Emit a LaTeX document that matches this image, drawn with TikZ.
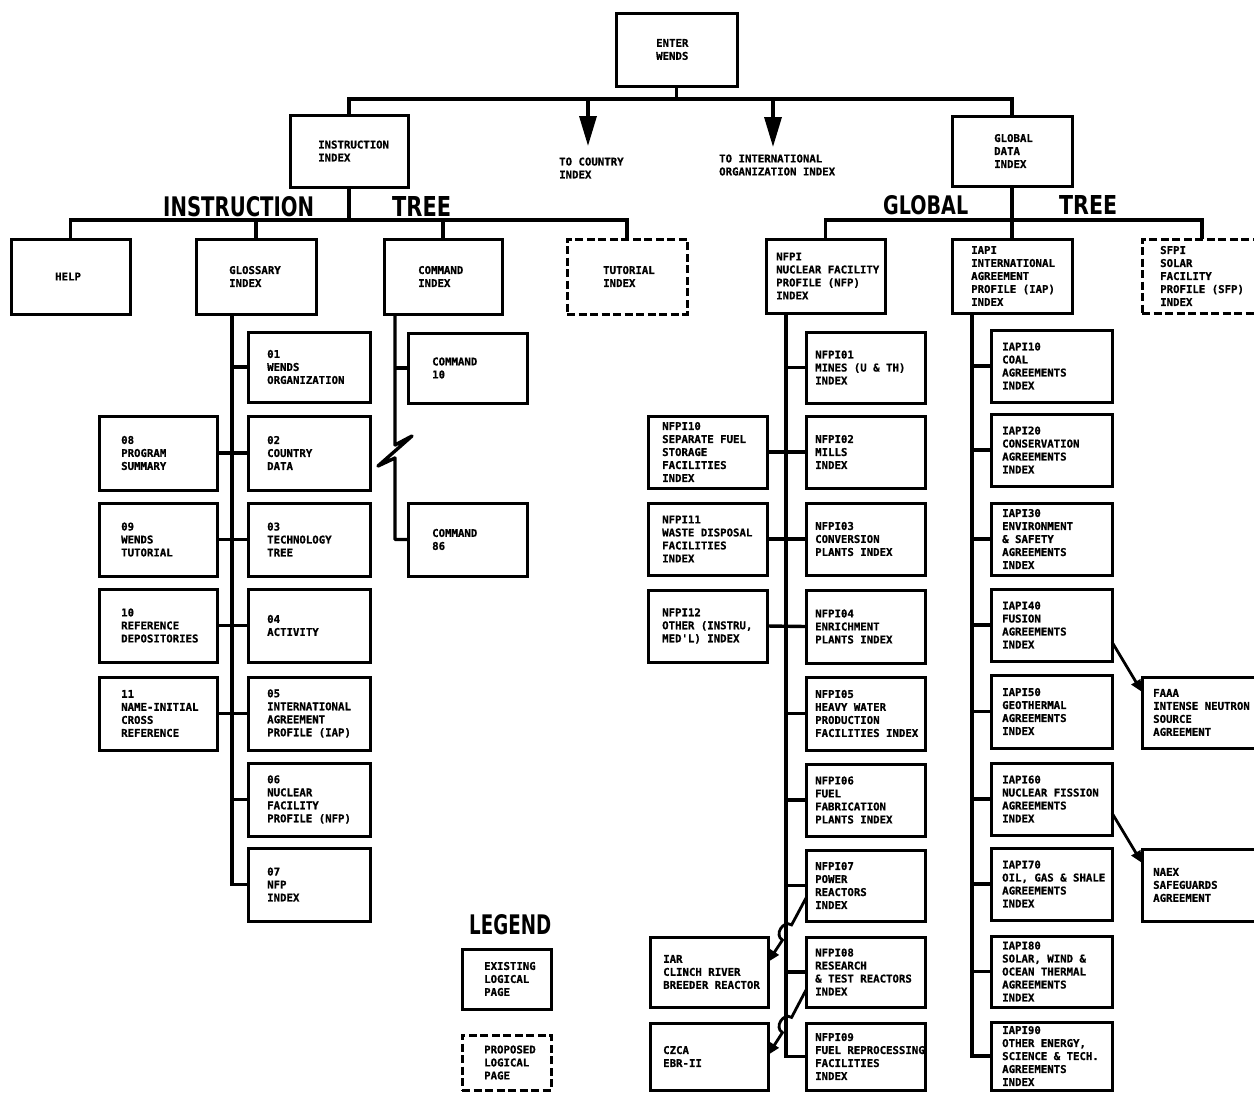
\documentclass[tikz,border=0pt]{standalone}
\usepackage{fontspec}
\usepackage{graphicx}
\newfontfamily\boxfont{DejaVu Sans Mono}[BoldFeatures={FakeBold=0.8}]
\newfontfamily\bigfont{DejaVu Sans}
\usetikzlibrary{arrows.meta,calc}
\tikzset{
  solidbox/.style={draw, line width=3pt, inner sep=0pt, outer sep=0pt},
  dashbox/.style={solidbox, dash pattern=on 8pt off 3.5pt},
  txt/.style={font=\boxfont\bfseries\fontsize{10.7}{13}\selectfont, align=left, inner sep=0pt, anchor=west},
  conn/.style={line width=3.4pt},
  bigarrow/.style={conn, -{Triangle[length=30pt,width=17pt]}},
  smallarrow/.style={line width=2.8pt, -{Triangle[length=12pt,width=10pt]}},
  biglbl/.style={inner sep=0pt, anchor=south west, font=\bigfont\bfseries}
}
\newcommand{\pbox}[8][solidbox]{%
  \node[#1, minimum width={#5-#3}, minimum height={#6-#4}] (#2) at ({(#3+#5)/2},{(#4+#6)/2}) {};
  \node[txt] (#2-t) at ([xshift=#7pt]#2.west) {#8};
}
\begin{document}
\begin{tikzpicture}[x=1pt,y=-1pt]
\path[use as bounding box, fill=white] (0,0) rectangle (1254,1093);

% ---- top level
\pbox{enter}{616}{13}{737}{86}{40}{ENTER\\WENDS}
\pbox{instr}{290}{115}{408}{187}{28}{INSTRUCTION\\INDEX}
\pbox{glob}{952}{116}{1072}{186}{42}{GLOBAL\\DATA\\INDEX}
\node[txt] (toc) at (559,168) {TO COUNTRY\\INDEX};
\node[txt] (toio) at (719,165) {TO INTERNATIONAL\\ORGANIZATION INDEX};

% ---- instruction tree
\pbox{help}{11}{239}{130}{314}{44}{HELP}
\pbox{gloss}{196}{239}{316}{314}{33}{GLOSSARY\\INDEX}
\pbox{cmd}{384}{239}{502}{314}{34}{COMMAND\\INDEX}
\pbox[dashbox]{tut}{567}{239}{687}{314}{36}{TUTORIAL\\INDEX}

\pbox{g01}{248}{332}{370}{402}{19}{01\\WENDS\\ORGANIZATION}
\pbox{g02}{248}{416}{370}{490}{19}{02\\COUNTRY\\DATA}
\pbox{g03}{248}{503}{370}{576}{19}{03\\TECHNOLOGY\\TREE}
\pbox{g04}{248}{589}{370}{662}{19}{04\\ACTIVITY}
\pbox{g05}{248}{677}{370}{750}{19}{05\\INTERNATIONAL\\AGREEMENT\\PROFILE (IAP)}
\pbox{g06}{248}{763}{370}{836}{19}{06\\NUCLEAR\\FACILITY\\PROFILE (NFP)}
\pbox{g07}{248}{848}{370}{921}{19}{07\\NFP\\INDEX}
\pbox{g08}{99}{416}{217}{490}{22}{08\\PROGRAM\\SUMMARY}
\pbox{g09}{99}{503}{217}{576}{22}{09\\WENDS\\TUTORIAL}
\pbox{g10}{99}{589}{217}{662}{22}{10\\REFERENCE\\DEPOSITORIES}
\pbox{g11}{99}{677}{217}{750}{22}{11\\NAME-INITIAL\\CROSS\\REFERENCE}
\pbox{c10}{408}{333}{527}{403}{24}{COMMAND\\10}
\pbox{c86}{408}{503}{527}{576}{24}{COMMAND\\86}

% ---- global tree
\pbox{nfpi}{766}{239}{885}{313}{10}{NFPI\\NUCLEAR FACILITY\\PROFILE (NFP)\\INDEX}
\pbox{iapi}{952}{239}{1072}{313}{19}{IAPI\\INTERNATIONAL\\AGREEMENT\\PROFILE (IAP)\\INDEX}
\pbox[dashbox]{sfpi}{1142}{239}{1262}{313}{18}{SFPI\\SOLAR\\FACILITY\\PROFILE (SFP)\\INDEX}

\pbox{n01}{806}{332}{925}{403}{9}{NFPI01\\MINES (U \& TH)\\INDEX}
\pbox{n02}{806}{416}{925}{488}{9}{NFPI02\\MILLS\\INDEX}
\pbox{n03}{806}{503}{925}{575}{9}{NFPI03\\CONVERSION\\PLANTS INDEX}
\pbox{n04}{806}{590}{925}{663}{9}{NFPI04\\ENRICHMENT\\PLANTS INDEX}
\pbox{n05}{806}{677}{925}{750}{9}{NFPI05\\HEAVY WATER\\PRODUCTION\\FACILITIES INDEX}
\pbox{n06}{806}{764}{925}{836}{9}{NFPI06\\FUEL\\FABRICATION\\PLANTS INDEX}
\pbox{n07}{806}{850}{925}{921}{9}{NFPI07\\POWER\\REACTORS\\INDEX}
\pbox{n08}{806}{937}{925}{1007}{9}{NFPI08\\RESEARCH\\\& TEST REACTORS\\INDEX}
\pbox{n09}{806}{1023}{925}{1090}{9}{NFPI09\\FUEL REPROCESSING\\FACILITIES\\INDEX}
\pbox{n10}{648}{416}{767}{488}{14}{NFPI10\\SEPARATE FUEL\\STORAGE\\FACILITIES\\INDEX}
\pbox{n11}{648}{503}{767}{575}{14}{NFPI11\\WASTE DISPOSAL\\FACILITIES\\INDEX}
\pbox{n12}{648}{590}{767}{662}{14}{NFPI12\\OTHER (INSTRU,\\MED'L) INDEX}
\pbox{iar}{650}{937}{768}{1007}{13}{IAR\\CLINCH RIVER\\BREEDER REACTOR}
\pbox{czca}{650}{1023}{768}{1090}{13}{CZCA\\EBR-II}

\pbox{i10}{991}{330}{1112}{402}{11}{IAPI10\\COAL\\AGREEMENTS\\INDEX}
\pbox{i20}{991}{414}{1112}{486}{11}{IAPI20\\CONSERVATION\\AGREEMENTS\\INDEX}
\pbox{i30}{991}{503}{1112}{575}{11}{IAPI30\\ENVIRONMENT\\\& SAFETY\\AGREEMENTS\\INDEX}
\pbox{i40}{991}{589}{1112}{661}{11}{IAPI40\\FUSION\\AGREEMENTS\\INDEX}
\pbox{i50}{991}{675}{1112}{748}{11}{IAPI50\\GEOTHERMAL\\AGREEMENTS\\INDEX}
\pbox{i60}{991}{763}{1112}{835}{11}{IAPI60\\NUCLEAR FISSION\\AGREEMENTS\\INDEX}
\pbox{i70}{991}{848}{1112}{920}{11}{IAPI70\\OIL, GAS \& SHALE\\AGREEMENTS\\INDEX}
\pbox{i80}{991}{936}{1112}{1007}{11}{IAPI80\\SOLAR, WIND \&\\OCEAN THERMAL\\AGREEMENTS\\INDEX}
\pbox{i90}{991}{1022}{1112}{1090}{11}{IAPI90\\OTHER ENERGY,\\SCIENCE \& TECH.\\AGREEMENTS\\INDEX}
\pbox{faaa}{1142}{677}{1262}{748}{11}{FAAA\\INTENSE NEUTRON\\SOURCE\\AGREEMENT}
\pbox{naex}{1142}{849}{1262}{921}{11}{NAEX\\SAFEGUARDS\\AGREEMENT}

% ---- legend
\node[biglbl] (leg) at (469,935) {\resizebox{82pt}{20pt}{LEGEND}};
\pbox{lex}{462}{949}{551}{1009}{22}{EXISTING\\LOGICAL\\PAGE}
\pbox[dashbox]{lpr}{462}{1035}{551}{1090}{22}{PROPOSED\\LOGICAL\\PAGE}

% ---- tree titles
\node[biglbl] (tInstr) at (163,217) {\resizebox{151pt}{20pt}{INSTRUCTION}};
\node[biglbl] (tTree1) at (392,217) {\resizebox{59pt}{20pt}{TREE}};
\node[biglbl] (tGlob) at (883,215) {\resizebox{85pt}{19pt}{GLOBAL}};
\node[biglbl] (tTree2) at (1059,215) {\resizebox{58pt}{19pt}{TREE}};

% ---- connectors: top level
\coordinate (tbus) at (0,99);
\coordinate (ibus) at (0,220);
\draw[conn] (enter.south) -- (enter.south |- tbus);
\draw[conn] (instr.north) |- (glob.north |- tbus) -- (glob.north);
\coordinate (a1s) at (588,99); \coordinate (a1e) at (588,146);
\coordinate (a2s) at (773,99); \coordinate (a2e) at (773,147);
\draw[bigarrow] (a1s) -- (a1e);
\draw[bigarrow] (a2s) -- (a2e);

% instruction tree
\draw[conn] (instr.south) -- (instr.south |- ibus);
\draw[conn] (help.north) |- (tut.north |- ibus) -- (tut.north);
\draw[conn] (gloss.north) -- (gloss.north |- ibus);
\draw[conn] (cmd.north) -- (cmd.north |- ibus);

% glossary spine
\coordinate (gs) at ([xshift=-24pt]gloss.south);
\draw[conn] (gs) |- (g07.west);
\draw[conn] (g01.west -| gs) -- (g01.west);
\draw[conn] (g06.west -| gs) -- (g06.west);
\foreach \l/\r in {g08/g02,g09/g03,g10/g04,g11/g05} \draw[conn] (\l.east) -- (\r.west);

% command spine with break
\coordinate (cs) at ([xshift=-48pt]cmd.south);
\coordinate (z1) at (395,445); \coordinate (z2) at (412,436);
\coordinate (z3) at (378,466); \coordinate (z4) at (395,458);
\draw[conn, line join=round] (cs) -- (z1) -- (z2) -- (z3) -- (z4) |- (c86.west);
\draw[conn] (c10.west -| cs) -- (c10.west);

% global tree
\draw[conn] (glob.south) -- (glob.south |- ibus);
\draw[conn] (nfpi.north) |- (sfpi.north |- ibus) -- (sfpi.north);
\draw[conn] (iapi.north) -- (iapi.north |- ibus);

% NFPI spine
\coordinate (ns) at ([xshift=-39.5pt]nfpi.south);
\draw[conn] (ns) |- (n09.west);
\foreach \b in {n01,n05,n06,n07,n08} \draw[conn] (\b.west -| ns) -- (\b.west);
\foreach \l/\r in {n10/n02,n11/n03,n12/n04} \draw[conn] (\l.east) -- (\r.west);

% IAPI spine
\coordinate (is) at ([xshift=-40pt]iapi.south);
\draw[conn] (is) |- (i90.west);
\foreach \b in {i10,i20,i30,i40,i50,i60,i70,i80} \draw[conn] (\b.west -| is) -- (\b.west);

% cross links with hops over the spine
\coordinate (h1a) at (791.6,924.9); \coordinate (h1b) at (782.4,940.1);
\coordinate (h1c) at (783.1,919.7); \coordinate (h1d) at (773.9,934.9);
\draw[smallarrow] ([yshift=-12.5pt]n07.west) -- (h1a) .. controls (h1c) and (h1d) .. (h1b) -- ([yshift=10pt]iar.east);
\coordinate (h2a) at (791.6,1017.4); \coordinate (h2b) at (782.4,1032.6);
\coordinate (h2c) at (783.1,1012.2); \coordinate (h2d) at (773.9,1027.4);
\draw[smallarrow] ([yshift=-18pt]n08.west) -- (h2a) .. controls (h2c) and (h2d) .. (h2b) -- ([yshift=1.5pt]czca.east);
\draw[smallarrow] ([yshift=-17pt]i40.east) -- ([yshift=20.5pt]faaa.west);
\draw[smallarrow] ([yshift=-14pt]i60.east) -- ([yshift=22pt]naex.west);
\end{tikzpicture}
\end{document}
